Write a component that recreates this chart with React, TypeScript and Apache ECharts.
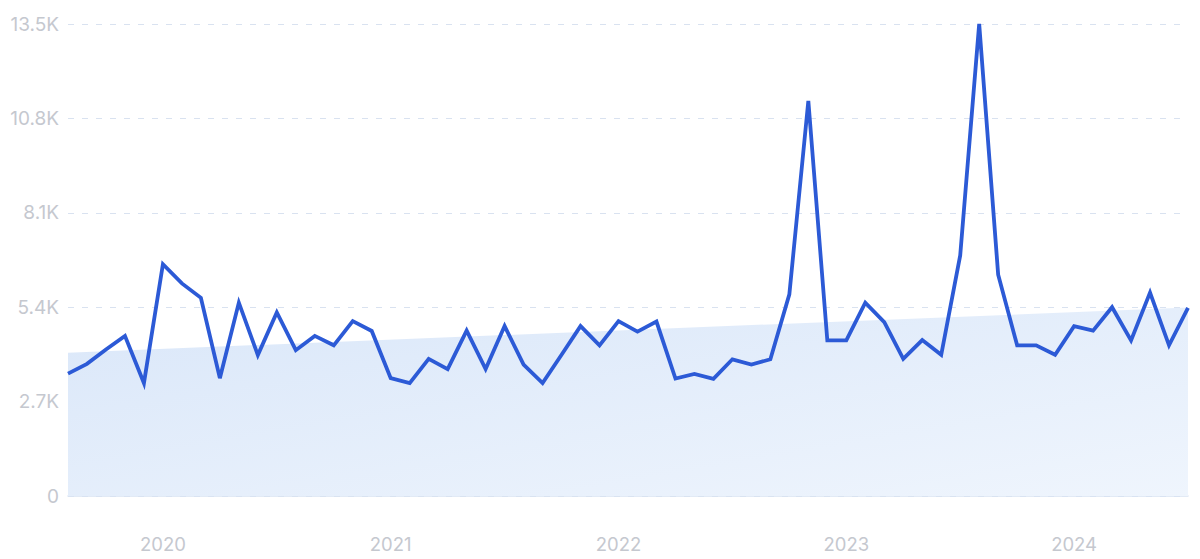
import React, { useEffect, useRef } from "react";
import * as echarts from "echarts";

// Monthly values, Aug 2019 – Jul 2024
const startYear = 2019;
const startMonth = 8;
const searches = [
  3500, 3780, 4190, 4580, 3230, 6630, 6080, 5670, 3370, 5530,
  4030, 5250, 4170, 4580, 4310, 5000, 4720, 3370, 3230, 3920,
  3630, 4730, 3630, 4860, 3760, 3230, 4040, 4860, 4310, 5000,
  4700, 4990, 3360, 3490, 3350, 3910, 3760, 3910, 5770, 11300,
  4450, 4450, 5530, 4970, 3920, 4460, 4040, 6880, 13500, 6330,
  4310, 4310, 4040, 4860, 4730, 5400, 4450, 5820, 4310, 5380,
];
// Trend band (start and end value)
const trendStart = 4100;
const trendEnd = 5390;
const yTicks = [0, 2700, 5400, 8100, 10800, 13500];

const months: string[] = [];
for (let i = 0; i < searches.length; i++) {
  const m0 = startMonth - 1 + i;
  const y = startYear + Math.floor(m0 / 12);
  const m = (m0 % 12) + 1;
  months.push(`${y}-${m < 10 ? "0" + m : m}`);
}

export default function App() {
  const ref = useRef<HTMLDivElement>(null);
  useEffect(() => {
    if (!ref.current) return;
    const chart = echarts.init(ref.current, undefined, { renderer: "svg" });
    const font = "Inter, 'Noto Sans', sans-serif";
    chart.setOption({
      animation: false,
      grid: { left: 68, right: 12, top: 24, bottom: 63 },
      xAxis: [
        {
          type: "category",
          data: months,
          boundaryGap: false,
          axisLine: { show: true, lineStyle: { color: "#d9e3f2", width: 1.5 } },
          axisTick: { show: false },
          axisLabel: {
            interval: (_i: number, v: string) => v.endsWith("-01"),
            formatter: (v: string) => v.slice(0, 4),
            color: "#c5c8cf",
            fontSize: 18.5,
            fontFamily: font,
            margin: 38,
          },
          splitLine: { show: false },
        },
        {
          type: "value",
          min: 0,
          max: searches.length - 1,
          show: false,
        },
      ],
      yAxis: {
        type: "value",
        min: yTicks[0],
        max: yTicks[yTicks.length - 1],
        interval: yTicks[1] - yTicks[0],
        axisLine: { show: false },
        axisTick: { show: false },
        axisLabel: {
          formatter: (v: number) => (v === 0 ? "0" : (v / 1000).toFixed(1) + "K"),
          color: "#c5c8cf",
          fontSize: 19,
          fontFamily: font,
          margin: 9,
        },
        splitLine: {
          show: true,
          lineStyle: { color: "#d9e2f0", type: [6, 8], width: 1 },
        },
      },
      series: [
        {
          type: "line",
          xAxisIndex: 1,
          data: [
            [0, trendStart],
            [searches.length - 1, trendEnd],
          ],
          symbol: "none",
          lineStyle: { width: 0, opacity: 0 },
          areaStyle: {
            opacity: 1,
            color: new echarts.graphic.LinearGradient(0, 0, 1, 1, [
              { offset: 0, color: "#dae7f9" },
              { offset: 1, color: "#eff5fd" },
            ]),
          },
          z: 1,
          silent: true,
        },
        {
          type: "line",
          data: searches,
          symbol: "none",
          lineStyle: { color: "#2c5ad6", width: 3.8, join: "miter" },
          z: 3,
        },
      ],
    });
    return () => chart.dispose();
  }, []);
  return (
    <div
      ref={ref}
      style={{ position: "absolute", left: 0, top: 0, width: 1200, height: 559 }}
    />
  );
}
